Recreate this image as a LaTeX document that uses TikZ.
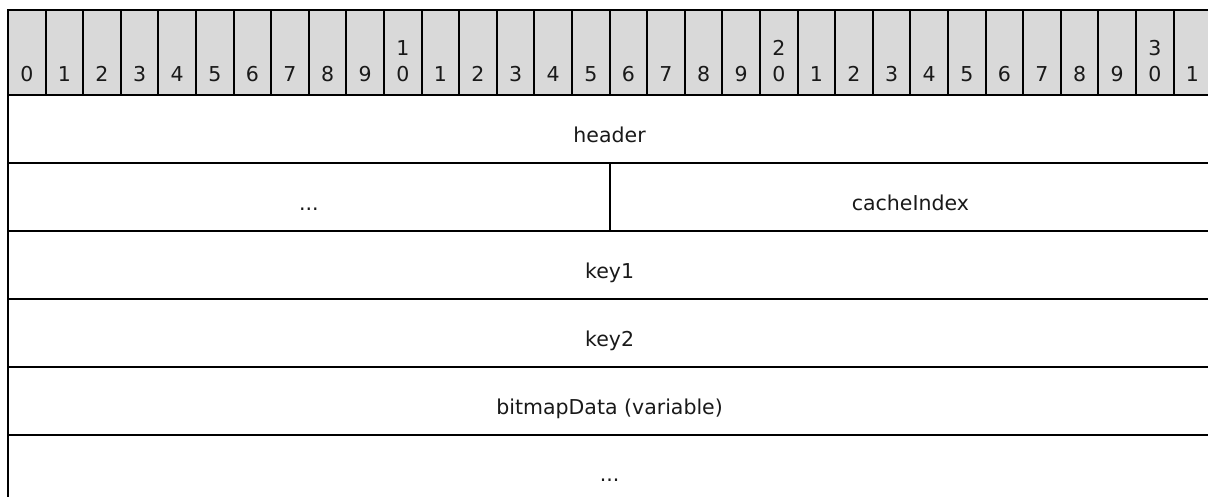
\documentclass[tikz,border=0pt]{standalone}
\usepackage{fontspec}
\setmainfont{DejaVu Sans}
\definecolor{hdrgray}{RGB}{217,217,217}
\begin{document}
\begin{tikzpicture}[x=1pt,y=-1pt,
  every node/.style={font=\fontsize{20.5pt}{27pt}\selectfont, inner sep=0pt, outer sep=0pt},
  bitcell/.style={draw=black, line width=2pt, fill=hdrgray, minimum width=37.6pt, minimum height=85pt},
  lbl/.style={anchor=base, text=black!90},
  field/.style={draw=black, line width=2pt, minimum width=#1, minimum height=68pt, text height=27pt, text depth=0pt, text=black!90},
  lastfield/.style={draw=black, line width=2pt, minimum width=#1, minimum height=100pt, text height=0pt, text depth=8pt, text=black!90}]
\useasboundingbox (0,0) rectangle (1208,497);
% bit ruler
\foreach \i in {0,...,31}{
  \pgfmathsetmacro\cx{8+37.6*(\i+0.5)}
  \node[bitcell] (b\i) at (\cx,52.5) {};
}
\foreach \i in {0,...,31}{
  \pgfmathsetmacro\cx{8+37.6*(\i+0.5)}
  \pgfmathtruncatemacro\ones{mod(\i,10)}
  \pgfmathtruncatemacro\tens{(\i-\ones)/10}
  \pgfmathtruncatemacro\stack{((\ones==0)&&(\i>0)) ? 1 : 0}
  \node[lbl] (n\i) at (\cx,82) {\ones};
  \ifnum\stack=1 \node[lbl] (t\i) at (\cx,56) {\tens};\fi
}
% fields
\node[field=1203.2pt] (header) at (609.6,129) {header};
\node[field=601.6pt] (dots1) at (308.8,197) {...};
\node[field=601.6pt] (cacheIndex) at (910.4,197) {cacheIndex};
\node[field=1203.2pt] (key1) at (609.6,265) {key1};
\node[field=1203.2pt] (key2) at (609.6,333) {key2};
\node[field=1203.2pt] (bitmapData) at (609.6,401) {bitmapData (variable)};
\node[lastfield=1203.2pt] (dots2) at (609.6,485) {...};
\end{tikzpicture}
\end{document}
